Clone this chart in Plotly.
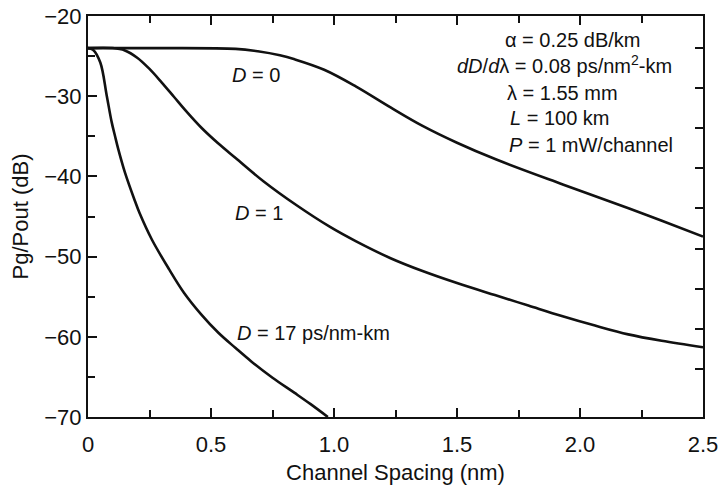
import plotly.graph_objects as go

FONT = "Liberation Sans, Arial, Helvetica, sans-serif"
INK = "#111111"

# curves (channel spacing in nm, Pg/Pout in dB)
x_d0 = [0, 0.3, 0.6, 0.69, 0.78, 0.84, 0.96, 1.09, 1.23, 1.36, 1.5, 1.66, 1.93, 2.2, 2.33, 2.5]
y_d0 = [-24, -24, -24.1, -24.4, -24.9, -25.4, -26.7, -28.8, -31.4, -33.7, -35.8, -37.9, -41.0, -44.0, -45.5, -47.5]

x_d1 = [0, 0.1, 0.15, 0.2, 0.25, 0.3, 0.35, 0.4, 0.46, 0.53, 0.6, 0.713, 0.848, 0.984, 1.09, 1.23,
        1.36, 1.5, 1.654, 1.79, 1.926, 2.061, 2.196, 2.332, 2.5]
y_d1 = [-24, -24, -24.3, -25.2, -26.6, -28.3, -30.1, -31.9, -33.9, -35.9, -37.7, -40.6, -43.6, -46.3, -48.1, -50.2,
        -51.8, -53.3, -54.8, -56.1, -57.4, -58.6, -59.7, -60.5, -61.3]

x_d17 = [0, 0.02, 0.05, 0.076, 0.096, 0.11, 0.123, 0.15, 0.19, 0.21, 0.26, 0.33, 0.39, 0.46,
         0.53, 0.6, 0.665, 0.75, 0.84, 0.905, 0.975]
y_d17 = [-24, -24.2, -25.8, -29.9, -33.2, -35.0, -36.6, -39.5, -43.0, -44.6, -47.9, -51.6, -54.5, -57.2,
         -59.5, -61.4, -63.1, -65.1, -67.0, -68.4, -70]

x_tickvals = [0, 0.5, 1.0, 1.5, 2.0, 2.5]
x_ticktext = ["0", "0.5", "1.0", "1.5", "2.0", "2.5"]
y_tickvals = [-20, -30, -40, -50, -60, -70]

fig = go.Figure()
for xs, ys in [(x_d0, y_d0), (x_d1, y_d1), (x_d17, y_d17)]:
    fig.add_trace(go.Scatter(x=xs, y=ys, mode="lines",
                             line=dict(color=INK, width=2.6, shape="spline", smoothing=1.0),
                             showlegend=False, hoverinfo="skip"))

lbl = dict(size=20, color=INK, family=FONT)
notes = [
    (0.577, -27.4, "<i>D</i> = 0"),
    (0.589, -44.6, "<i>D</i> = 1"),
    (0.598, -59.5, "<i>D</i> = 17 ps/nm-km"),
    (1.687, -23.0, "α = 0.25 dB/km"),
    (1.492, -26.1, "<i>dD</i>/<i>d</i>λ = 0.08 ps/nm<sup>2</sup>-km"),
    (1.695, -29.6, "λ = 1.55 mm"),
    (1.707, -32.7, "<i>L</i> = 100 km"),
    (1.703, -36.1, "<i>P</i> = 1 mW/channel"),
]
for ax, ay, t in notes:
    fig.add_annotation(x=ax, y=ay, text=t, showarrow=False, xanchor="left", yanchor="middle", font=lbl)

axis_common = dict(showgrid=False, zeroline=False, showline=True, linecolor=INK, linewidth=2,
                   ticks="inside", tickcolor=INK, tickwidth=1.5, ticklen=9, automargin=False,
                   ticklabeloverflow="allow", tickfont=dict(size=22, color=INK, family=FONT))

fig.update_layout(
    width=722, height=485,
    margin=dict(l=88, r=19, t=16, b=68),
    plot_bgcolor="white", paper_bgcolor="white",
    xaxis=dict(range=[0, 2.5], tickvals=x_tickvals, ticktext=x_ticktext, mirror="ticks",
               minor=dict(ticks="inside", dtick=0.25, tick0=0, ticklen=7, tickcolor=INK, tickwidth=1.5),
               title=dict(text="Channel Spacing (nm)", font=dict(size=22, color=INK, family=FONT), standoff=14),
               ticklabelstandoff=7, **axis_common),
    yaxis=dict(range=[-70, -20], tickvals=y_tickvals, mirror=True,
               minor=dict(ticks="inside", dtick=5, tick0=-20, ticklen=7, tickcolor=INK, tickwidth=1.5),
               title=dict(text="Pg/Pout (dB)", font=dict(size=22, color=INK, family=FONT), standoff=10),
               ticklabelstandoff=0, **axis_common),
    # the right-hand ticks in the scan sit about 1 dB above the left-hand ones
    yaxis2=dict(range=[-71, -21], overlaying="y", side="right", showgrid=False, zeroline=False,
                showline=False, ticks="inside", tickcolor=INK, tickwidth=1.5, ticklen=8,
                tickvals=[-25, -30, -35, -40, -45, -50, -55, -60, -65], showticklabels=False),
)
fig.add_trace(go.Scatter(x=[None], y=[None], yaxis="y2", showlegend=False, hoverinfo="skip"))

# drop the default 8px body margin so the figure fills the window exactly
fig.write_html("out.html", config={"displayModeBar": False},
               post_script="document.body.style.margin='0';")
